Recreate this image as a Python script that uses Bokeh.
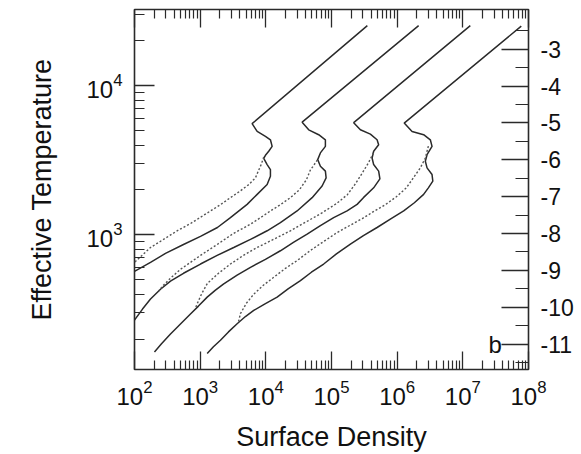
from bokeh.plotting import figure
from bokeh.models import (LogAxis, LinearAxis, Range1d, FixedTicker, Label,
                          CustomJSTickFormatter, LinearScale)
from bokeh.embed import file_html
from bokeh.resources import INLINE

# ---- data (log10 of surface density, log10 of Teff) ----
solid1_lsig = [5.546, 3.791, 3.868, 3.994, 4.070, 4.096, 4.044, 3.994, 3.968, 4.020,
               4.070, 4.070, 4.020, 3.868, 3.715, 3.461, 3.263, 3.005, 2.746, 2.472,
               2.244, 2.000]
solid1_lteff = [4.402, 3.745, 3.693, 3.660, 3.637, 3.593, 3.560, 3.533, 3.512, 3.471,
                3.437, 3.393, 3.337, 3.271, 3.204, 3.115, 3.049, 2.989, 2.935, 2.875,
                2.815, 2.755]

solid2_lsig = [6.327, 4.553, 4.653, 4.805, 4.907, 4.907, 4.831, 4.790, 4.831, 4.907,
               4.918, 4.857, 4.705, 4.476, 4.222, 4.020, 3.766, 3.511, 3.259, 3.005,
               2.746, 2.548, 2.396, 2.244, 2.122, 2.000]
solid2_lteff = [4.402, 3.755, 3.704, 3.671, 3.637, 3.593, 3.549, 3.504, 3.460, 3.427,
                3.382, 3.327, 3.249, 3.160, 3.082, 3.027, 2.969, 2.915, 2.862, 2.804,
                2.742, 2.689, 2.635, 2.569, 2.502, 2.429]

solid3_lsig = [7.114, 5.338, 5.440, 5.592, 5.694, 5.718, 5.642, 5.618, 5.642, 5.718,
               5.737, 5.642, 5.486, 5.390, 5.237, 5.033, 4.831, 4.629, 4.420, 4.222,
               3.994, 3.766, 3.563, 3.359, 3.233, 3.107, 2.974, 2.852, 2.700, 2.548,
               2.411, 2.304]
solid3_lteff = [4.402, 3.752, 3.704, 3.675, 3.637, 3.604, 3.560, 3.515, 3.471, 3.427,
                3.375, 3.315, 3.249, 3.204, 3.160, 3.115, 3.062, 3.004, 2.949, 2.893,
                2.835, 2.782, 2.729, 2.671, 2.629, 2.582, 2.522, 2.469, 2.402, 2.335,
                2.269, 2.215]

solid4_lsig = [7.890, 6.107, 6.227, 6.403, 6.505, 6.531, 6.455, 6.429, 6.455, 6.531,
               6.543, 6.475, 6.403, 6.262, 6.099, 5.896, 5.694, 5.486, 5.288, 5.075,
               4.881, 4.694, 4.527, 4.344, 4.172, 3.994, 3.816, 3.689, 3.563, 3.431,
               3.309, 3.202, 3.107]
solid4_lteff = [4.399, 3.749, 3.693, 3.671, 3.637, 3.593, 3.537, 3.493, 3.449, 3.404,
                3.360, 3.315, 3.271, 3.215, 3.160, 3.105, 3.049, 2.995, 2.937, 2.872,
                2.804, 2.749, 2.693, 2.639, 2.582, 2.539, 2.493, 2.452, 2.404, 2.349,
                2.293, 2.249, 2.204]

dot1_lsig = [3.968, 3.933, 3.887, 3.842, 3.735, 3.613, 3.461, 3.309, 3.157, 2.852,
             2.650, 2.441, 2.244, 2.000]
dot1_lteff = [3.522, 3.475, 3.429, 3.382, 3.335, 3.295, 3.249, 3.202, 3.160, 3.075,
              3.027, 2.969, 2.915, 2.815]

dot2_lsig = [4.785, 4.724, 4.679, 4.618, 4.511, 4.374, 4.222, 4.070, 3.918, 3.766,
             3.507, 3.259, 3.005, 2.852, 2.700, 2.548, 2.441, 2.365]
dot2_lteff = [3.502, 3.462, 3.435, 3.369, 3.302, 3.249, 3.202, 3.160, 3.115, 3.071,
              3.009, 2.935, 2.862, 2.815, 2.769, 2.709, 2.662, 2.622]

dot3_lsig = [5.638, 5.562, 5.470, 5.364, 5.242, 5.075, 4.861, 4.648, 4.374, 4.116,
             3.868, 3.659, 3.461, 3.279, 3.111, 3.020, 2.959, 2.928]
dot3_lteff = [3.549, 3.482, 3.415, 3.342, 3.269, 3.209, 3.149, 3.095, 3.027, 2.969,
              2.915, 2.862, 2.804, 2.742, 2.675, 2.602, 2.542, 2.509]

dot4_lsig = [6.475, 6.429, 6.353, 6.247, 6.140, 5.988, 5.820, 5.638, 5.470, 5.288,
             5.075, 4.881, 4.679, 4.476, 4.298, 4.120, 3.963, 3.816, 3.705, 3.613,
             3.583]
dot4_lteff = [3.595, 3.515, 3.449, 3.382, 3.315, 3.255, 3.202, 3.155, 3.109, 3.065,
              3.012, 2.955, 2.895, 2.827, 2.775, 2.715, 2.662, 2.602, 2.542, 2.471,
              2.415]

x_ticks = [1e2, 1e3, 1e4, 1e5, 1e6, 1e7, 1e8]
y_ticks = [1e3, 1e4]
mdot_ticks = [-3, -4, -5, -6, -7, -8, -9, -10, -11]
mdot_labels = ["-3", "-4", "-5", "-6", "-7", "-8", "-9", "-10", "-11"]
mdot_minor = [-2.5, -3.5, -4.5, -5.5, -6.5, -7.5, -8.5, -9.5, -10.5, -11.5]

x_minor = [k * 10.0 ** e for e in range(2, 8) for k in range(2, 10)]
y_minor = [k * 10.0 ** e for e in range(2, 5) for k in range(1, 10)]

FONT = "Liberation Sans"
INK = "#2a2a2a"

p = figure(width=581, height=454, x_axis_type="log", y_axis_type="log",
           x_range=Range1d(1e2, 1e8), y_range=Range1d(125, 32400),
           output_backend="svg", toolbar_location=None,
           min_border_left=134, min_border_right=53, min_border_top=9,
           min_border_bottom=82)
p.grid.visible = False
p.outline_line_color = INK
p.outline_line_width = 1.6
p.background_fill_color = "white"
p.border_fill_color = "white"


def tolin(a):
    return [10.0 ** v for v in a]


for ls, lt in [(solid1_lsig, solid1_lteff), (solid2_lsig, solid2_lteff),
               (solid3_lsig, solid3_lteff), (solid4_lsig, solid4_lteff)]:
    p.line(tolin(ls), tolin(lt), line_color=INK, line_width=1.5)

for ls, lt in [(dot1_lsig, dot1_lteff), (dot2_lsig, dot2_lteff),
               (dot3_lsig, dot3_lteff), (dot4_lsig, dot4_lteff)]:
    p.line(tolin(ls), tolin(lt), line_color="#555555", line_width=1.4,
           line_dash="2 2")


def style(ax, tick_in, minor_in, fs, standoff):
    ax.axis_line_color = None
    ax.major_tick_in = tick_in
    ax.major_tick_out = 0
    ax.minor_tick_in = minor_in
    ax.minor_tick_out = 0
    ax.major_tick_line_color = INK
    ax.minor_tick_line_color = INK
    ax.major_tick_line_width = 1.3
    ax.minor_tick_line_width = 1.2
    ax.major_label_text_font = FONT
    ax.major_label_text_font_size = fs
    ax.major_label_text_color = "#111111"
    ax.major_label_standoff = standoff


xa = p.xaxis[0]
xa.ticker = FixedTicker(ticks=x_ticks, minor_ticks=x_minor)
style(xa, 18, 9, "24px", 10)
xa.axis_label = "Surface Density"
xa.axis_label_text_font = FONT
xa.axis_label_text_font_size = "27px"
xa.axis_label_text_font_style = "normal"
xa.axis_label_text_color = "#111111"
xa.axis_label_standoff = 14

ya = p.yaxis[0]
ya.ticker = FixedTicker(ticks=y_ticks, minor_ticks=y_minor)
style(ya, 20, 10, "24px", 12)
ya.axis_label = "Effective Temperature"
ya.axis_label_text_font = FONT
ya.axis_label_text_font_size = "27px"
ya.axis_label_text_font_style = "normal"
ya.axis_label_text_color = "#111111"
ya.axis_label_standoff = 26

top = LogAxis(ticker=FixedTicker(ticks=x_ticks, minor_ticks=x_minor),
              formatter=CustomJSTickFormatter(code="return ''"))
style(top, 18, 9, "0px", 0)
p.add_layout(top, "above")

p.extra_y_ranges = {"mdot": Range1d(-11.69, -1.92)}
p.extra_y_scales = {"mdot": LinearScale()}
ra = LinearAxis(y_range_name="mdot",
                ticker=FixedTicker(ticks=mdot_ticks, minor_ticks=mdot_minor))
style(ra, 27, 13, "23px", 12)
ra.major_label_overrides = {t: s for t, s in zip(mdot_ticks, mdot_labels)}
p.add_layout(ra, "right")

p.add_layout(Label(x=3.1e7, y=-11, y_range_name="mdot", text="b",
                   text_font=FONT, text_font_size="24px", text_color="#111111",
                   text_align="center", text_baseline="middle"))

open("out.html", "w").write(file_html(p, INLINE))
